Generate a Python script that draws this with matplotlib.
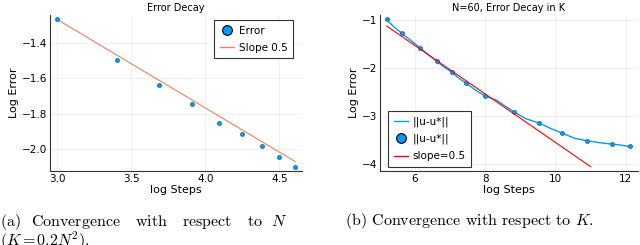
import matplotlib
matplotlib.use("Agg")
import matplotlib.pyplot as plt
from matplotlib.lines import Line2D

# left panel: error vs N
steps_n = [2.996, 3.401, 3.689, 3.912, 4.094, 4.248, 4.382, 4.500, 4.605]
err_n = [-1.268, -1.498, -1.641, -1.745, -1.852, -1.916, -1.982, -2.046, -2.102]
slope_n_x = [2.996, 4.605]
slope_n_y = [-1.268, -2.070]

# right panel: error vs K
line_k_x = [5.19, 5.41, 5.63, 5.89, 6.14, 6.38, 6.62, 6.83, 7.04, 7.25, 7.45,
            7.73, 8.00, 8.30, 8.55, 8.82, 9.15, 9.53, 9.85, 10.18, 10.55,
            10.90, 11.25, 11.60, 11.85, 12.11]
line_k_y = [-0.99, -1.15, -1.28, -1.43, -1.575, -1.72, -1.86, -1.98, -2.08,
            -2.21, -2.31, -2.46, -2.58, -2.66, -2.78, -2.91, -3.05, -3.14,
            -3.25, -3.35, -3.46, -3.51, -3.55, -3.58, -3.60, -3.63]
steps_k = [5.194, 5.63, 6.142, 6.616, 7.043, 7.45, 8.0, 8.815, 9.526, 10.18,
           10.9, 11.6, 12.11]
err_k = [-0.986, -1.277, -1.575, -1.859, -2.081, -2.31, -2.58, -2.913, -3.141,
         -3.349, -3.509, -3.578, -3.626]
slope_k_x = [5.194, 11.0]
slope_k_y = [-1.125, -4.049]

blue = "#009af9"
orange = "#f08060"
plt.rcParams["font.family"] = "DejaVu Sans"
plt.rcParams["mathtext.fontset"] = "cm"

fig = plt.figure(figsize=(6.4, 2.45), dpi=100)
ax1 = fig.add_axes([50 / 640, 74 / 245, 252 / 640, 156 / 245])
ax2 = fig.add_axes([380 / 640, 74 / 245, 258 / 640, 156 / 245])


def style(ax):
    for s in ["top", "right"]:
        ax.spines[s].set_visible(False)
    for s in ["left", "bottom"]:
        ax.spines[s].set_linewidth(0.8)
        ax.spines[s].set_color("#333333")
    ax.grid(True, color="#000000", alpha=0.08, linewidth=0.5)
    ax.tick_params(labelsize=7.5, length=0, pad=2)
    ax.set_xlabel("log Steps", fontsize=8, labelpad=1)
    ax.set_ylabel("Log Error", fontsize=8, labelpad=2)


leg_kw = dict(fontsize=7.5, fancybox=False, edgecolor="#333333", framealpha=1,
              handlelength=1.4, handletextpad=0.4, borderpad=0.55,
              labelspacing=0.65, borderaxespad=0)

# left
ax1.plot(slope_n_x, slope_n_y, color=orange, lw=0.8, label="Slope 0.5")
ax1.plot(steps_n, err_n, "o", color=blue, ms=3, mec="#1a4f80", mew=0.4,
         label="Error")
ax1.set_xlim(2.95, 4.653)
ax1.set_ylim(-2.124, -1.244)
ax1.set_xticks([3.0, 3.5, 4.0, 4.5])
ax1.set_yticks([-1.4, -1.6, -1.8, -2.0])
ax1.set_yticklabels(["\u22121.4", "\u22121.6", "\u22121.8", "\u22122.0"])
style(ax1)
ax1.set_title("Error Decay", fontsize=7, pad=3)
h1 = [Line2D([], [], marker="o", ls="none", color=blue, mec="black", ms=7,
             mew=0.8),
      Line2D([], [], color=orange, lw=1)]
leg1 = ax1.legend(h1, ["Error", "Slope 0.5"], loc="upper right",
                  bbox_to_anchor=(243 / 252, 1 - 5 / 156), **leg_kw)
leg1.get_frame().set_linewidth(0.8)

# right
ax2.plot(line_k_x, line_k_y, color=blue, lw=1.0)
ax2.plot(steps_k, err_k, "o", color=blue, ms=3, mec="#1a4f80", mew=0.4)
ax2.plot(slope_k_x, slope_k_y, color="red", lw=0.8)
ax2.set_xlim(5.005, 12.35)
ax2.set_ylim(-4.139, -0.896)
ax2.set_xticks([6, 8, 10, 12])
ax2.set_yticks([-1, -2, -3, -4])
ax2.set_yticklabels(["\u22121", "\u22122", "\u22123", "\u22124"])
style(ax2)
ax2.set_title("N=60, Error Decay in K", fontsize=7, pad=3)
h2 = [Line2D([], [], color=blue, lw=1),
      Line2D([], [], marker="o", ls="none", color=blue, mec="black", ms=7,
             mew=0.8),
      Line2D([], [], color="red", lw=1)]
leg2 = ax2.legend(h2, ["||u-u*||", "||u-u*||", "slope=0.5"], loc="lower left",
                  bbox_to_anchor=(8 / 258, 4 / 156), **leg_kw)
leg2.get_frame().set_linewidth(0.8)

# captions
cap = dict(fontsize=11.5, family="cmr10")
fig.text(0.0, 1 - 212 / 245,
         "(a)  Convergence   with   respect   to  $N$\n($K\\,$=$\\,0.2N^2$).",
         ha="left", va="top", linespacing=0.85, **cap)
fig.text(345 / 640, 1 - 221 / 245, "(b) Convergence with respect to $K$.",
         ha="left", va="center", **cap)

fig.savefig("out.png", dpi=100)
